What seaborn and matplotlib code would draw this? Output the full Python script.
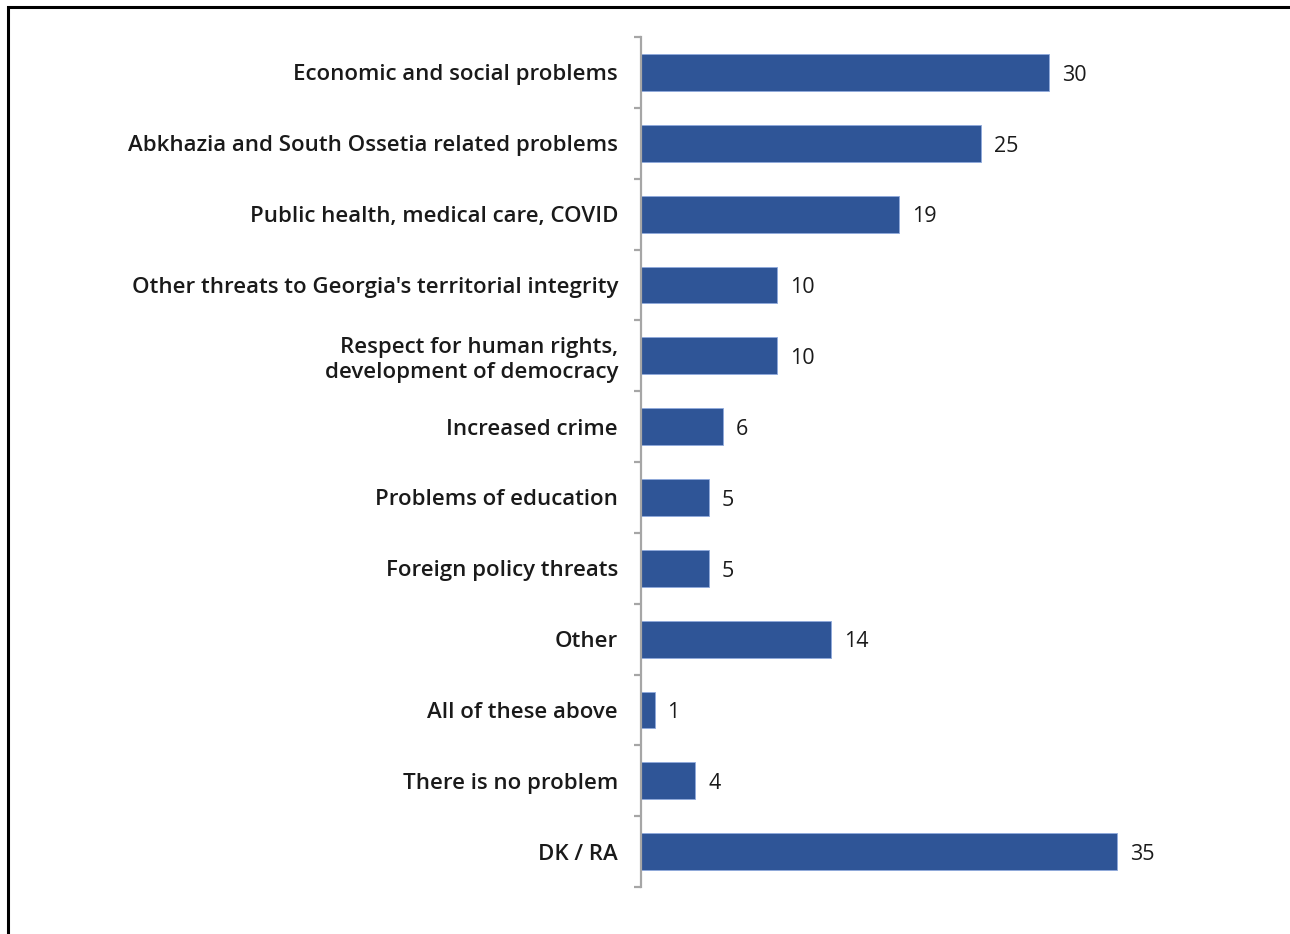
import matplotlib
matplotlib.use("Agg")
import matplotlib.pyplot as plt
import seaborn as sns
import pandas as pd
import numpy as np
from matplotlib.patches import Rectangle

categories = [
    "Economic and social problems",
    "Abkhazia and South Ossetia related problems",
    "Public health, medical care, COVID",
    "Other threats to Georgia's territorial integrity",
    "Respect for human rights,\ndevelopment of democracy",
    "Increased crime",
    "Problems of education",
    "Foreign policy threats",
    "Other",
    "All of these above",
    "There is no problem",
    "DK / RA",
]
values = [30, 25, 19, 10, 10, 6, 5, 5, 14, 1, 4, 35]

df = pd.DataFrame({"category": categories, "value": values})

sns.set_theme(style="white")
plt.rcParams["font.family"] = ["Open Sans", "DejaVu Sans"]

W, H = 1290, 934
fig = plt.figure(figsize=(W / 100, H / 100), dpi=100)
ax = fig.add_axes([641 / W, 1 - 887 / H, (1280 - 641) / W, (887 - 37) / H])

bar_color = "#2F5597"
sns.barplot(data=df, x="value", y="category", orient="h", color=bar_color,
            width=0.52, edgecolor="#8FAADC", linewidth=0.6, ax=ax,
            saturation=1)

ax.set_xlim(0, 47)
ax.set_ylim(len(categories) - 0.5, -0.5)
ax.set_xlabel("")
ax.set_ylabel("")
ax.set_xticks([])

for s in ["top", "right", "bottom"]:
    ax.spines[s].set_visible(False)
ax.spines["left"].set_color("#A6A6A6")
ax.spines["left"].set_linewidth(1.6)

ax.set_yticks(range(len(categories)))
ax.set_yticklabels(categories, fontsize=16, fontweight="semibold", color="#1A1A1A",
                   linespacing=1.22)
ax.tick_params(axis="y", which="major", left=True, length=0, pad=16.5)
ax.set_yticks(np.arange(-0.5, len(categories)), minor=True)
ax.tick_params(axis="y", which="minor", left=True, length=5, width=1.6,
               color="#A6A6A6", direction="out")

for i, v in enumerate(values):
    ax.text(v + 0.95, i + 0.04, str(v), va="center", ha="left", fontsize=15.5,
            color="#1A1A1A")

# outer frame line along top and left edges
fig.patches.append(Rectangle((8 / W, -0.1), 1.2, 1.1 - 7 / H,
                             transform=fig.transFigure, fill=False,
                             edgecolor="black", linewidth=2.2))

fig.savefig("out.png", dpi=100)
